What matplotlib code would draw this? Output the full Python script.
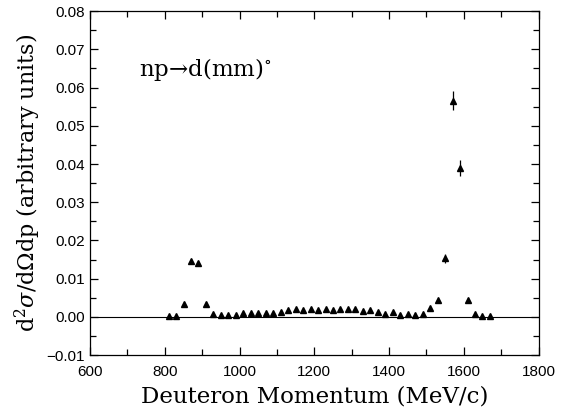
import matplotlib
matplotlib.use("Agg")
import matplotlib.pyplot as plt
from matplotlib.ticker import MultipleLocator

plt.rcParams['mathtext.fontset'] = 'dejavuserif'

momentum = [810, 830, 850, 870, 890, 910, 930, 950, 970, 990,
            1010, 1030, 1050, 1070, 1090, 1110, 1130, 1150, 1170, 1190,
            1210, 1230, 1250, 1270, 1290, 1310, 1330, 1350, 1370, 1390,
            1410, 1430, 1450, 1470, 1490, 1510, 1530, 1550, 1570, 1590,
            1610, 1630, 1650, 1670]
cross_section = [0.0003, 0.0003, 0.0034, 0.0145, 0.0140, 0.0035, 0.0007, 0.0004, 0.0004, 0.0005,
                 0.0011, 0.0011, 0.0009, 0.0011, 0.0009, 0.0014, 0.0019, 0.0020, 0.0018, 0.0022,
                 0.0019, 0.0021, 0.0018, 0.0020, 0.0021, 0.0020, 0.0016, 0.0019, 0.0013, 0.0007,
                 0.0013, 0.0006, 0.0008, 0.0006, 0.0008, 0.0023, 0.0044, 0.0153, 0.0566, 0.0390,
                 0.0045, 0.0007, 0.0002, 0.0002]
errors = [0.0003, 0.0003, 0.0004, 0.0006, 0.0006, 0.0004, 0.0003, 0.0003, 0.0003, 0.0003,
          0.0003, 0.0003, 0.0003, 0.0003, 0.0003, 0.0003, 0.0003, 0.0003, 0.0003, 0.0003,
          0.0003, 0.0003, 0.0003, 0.0003, 0.0003, 0.0003, 0.0003, 0.0003, 0.0003, 0.0003,
          0.0003, 0.0003, 0.0003, 0.0003, 0.0003, 0.0003, 0.0004, 0.0012, 0.0024, 0.0021,
          0.0004, 0.0003, 0.0003, 0.0003]

fig = plt.figure(figsize=(5.63, 4.12), dpi=100)
ax = fig.add_axes([0.160, 0.138, 0.7965, 0.835])

ax.axhline(0, color='black', lw=0.8)
ax.errorbar(momentum, cross_section, yerr=errors, fmt='^', color='black',
            ms=5, elinewidth=0.9, capsize=0)

ax.set_xlim(600, 1800)
ax.set_ylim(-0.01, 0.08)
ax.xaxis.set_major_locator(MultipleLocator(200))
ax.xaxis.set_minor_locator(MultipleLocator(100))
ax.yaxis.set_major_locator(MultipleLocator(0.01))
ax.yaxis.set_minor_locator(MultipleLocator(0.005))
ax.yaxis.set_major_formatter(plt.FuncFormatter(lambda v, p: f"{v:.2f}".replace('-', '\u2212')))
ax.tick_params(which='both', direction='in', top=True, right=True, width=0.9)
ax.tick_params(which='major', length=6)
ax.tick_params(which='minor', length=4)
for lab in ax.get_xticklabels() + ax.get_yticklabels():
    lab.set_family('Liberation Sans')
    lab.set_fontsize(11)
ax.tick_params(axis='x', pad=7)
for s in ax.spines.values():
    s.set_linewidth(0.9)

ax.set_xlabel('Deuteron Momentum (MeV/c)', family='DejaVu Serif', fontsize=16.5, labelpad=5)
ax.set_ylabel(r'd$^2\sigma$/d$\Omega$dp (arbitrary units)', family='DejaVu Serif',
              fontsize=16, labelpad=3)

ax.text(0.109, 0.83, 'np\u2192d(mm)$^{\\circ}$', transform=ax.transAxes,
        family='DejaVu Serif', fontsize=16.5, va='center', ha='left')

fig.savefig('out.png', dpi=100)
